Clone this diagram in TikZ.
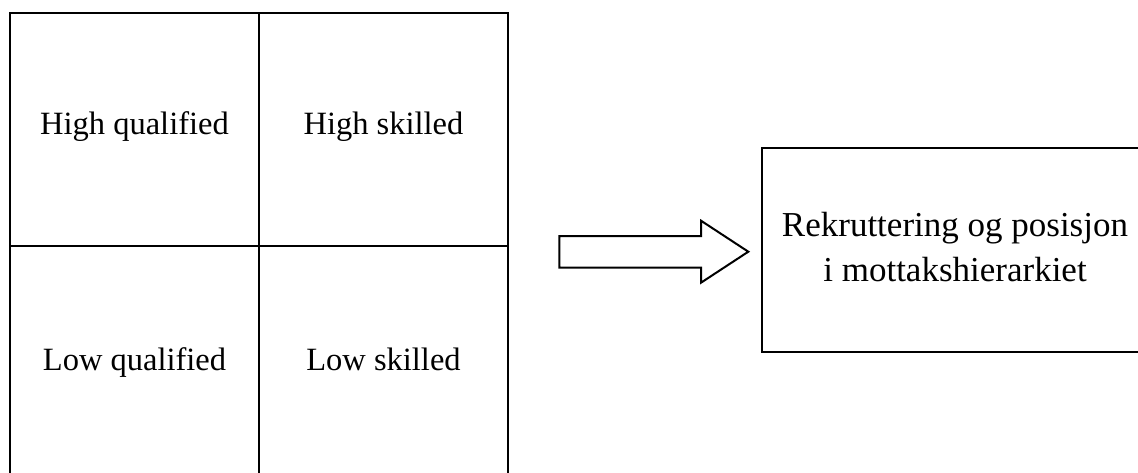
\documentclass[tikz,border=0pt]{standalone}
\usepackage{fontspec}
\setmainfont{Liberation Serif}
\begin{document}
\begin{tikzpicture}[x=1pt,y=1pt,
  cell/.style={draw=black,line width=2pt,minimum width=249pt,minimum height=233pt,inner sep=0pt,anchor=north west},
  celltxt/.style={anchor=base,inner sep=0pt,font=\fontsize{32.5}{38}\selectfont},
  outbox/.style={draw=black,line width=2pt,inner sep=0pt,anchor=north west,minimum width=390pt,minimum height=203.5pt},
  lbl/.style={anchor=base,inner sep=0pt,font=\fontsize{35}{45}\selectfont,align=center},
  bigarrow/.style={draw=black,line width=2pt,line join=miter}]
\useasboundingbox (0,0) rectangle (1138,472);
\clip (0,0) rectangle (1138,472);
\fill[white] (0,0) rectangle (1138,472);
\node[cell] (hq) at (9,460) {};
\node[cell] (hs) at (258,460) {};
\node[cell] (lq) at (9,227) {};
\node[cell] (ls) at (258,227) {};
\node[celltxt] (hqt) at (hq.center |- 0,337) {High qualified};
\node[celltxt] (hst) at (hs.center |- 0,337) {High skilled};
\node[celltxt] (lqt) at (lq.center |- 0,102) {Low qualified};
\node[celltxt] (lst) at (ls.center |- 0,102) {Low skilled};
\node[outbox] (out) at (760.7,324.7) {};
\node[lbl] (outtxt) at (955,235.3) {Rekruttering og posisjon};
\node[lbl] (outtxt2) at (955,190.3) {i mottakshierarkiet};
\draw[bigarrow] (559.3,236) -- (701,236) -- (701,251.3) -- (748.3,220.3) -- (701,189.3) -- (701,204.3) -- (559.3,204.3) -- cycle;
\end{tikzpicture}
\end{document}
